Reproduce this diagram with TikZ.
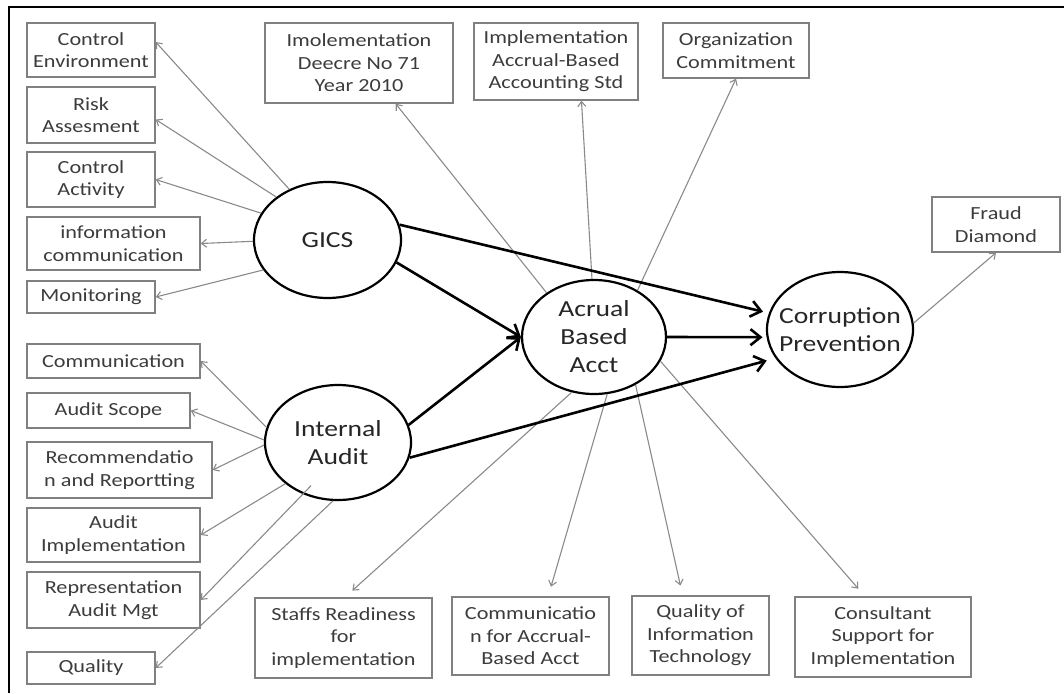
\documentclass[tikz,border=0pt]{standalone}
\usepackage{fontspec}
\setmainfont{Carlito}[FakeStretch=1.2]
\usetikzlibrary{arrows.meta,calc,shapes.geometric}
\definecolor{boxgray}{HTML}{808080}
\definecolor{txtgray}{HTML}{3C3C3C}
\definecolor{linegray}{HTML}{8A8A8A}
\tikzset{
  box/.style={draw=boxgray, line width=1.4pt, inner sep=0pt, align=center, text=txtgray,
    font=\fontsize{18.5}{22.5}\selectfont},
  sz/.style 2 args={minimum width=#1pt, minimum height=#2pt},
  lv/.style={draw=black, ellipse, line width=2.2pt, inner sep=0pt},
  lvtext/.style={align=center, text=black!85, font=\fontsize{23}{28}\selectfont},
  ind/.style={draw=linegray, line width=1.1pt, -{Straight Barb[length=5pt,width=8pt]}},
  rel/.style={line width=2.6pt, -{Straight Barb[length=10pt,width=16pt]}}
}
\begin{document}
\begin{tikzpicture}[x=1pt,y=-1pt]
\useasboundingbox (0,0) rectangle (1064,693);
\draw[line width=2pt] (9,693) -- (9,7) -- (1064,7);

% latent variables
\node[lv, sz={147}{116}] (gics) at (327.5,240) {};
\node[lvtext] (gics-t) at (gics) {GICS};
\node[lv, sz={146}{115}] (ia) at (338,442.5) {};
\node[lvtext] (ia-t) at (ia) {Internal\\Audit};
\node[lv, sz={144}{114}] (acc) at (594,337) {};
\node[lvtext] (acc-t) at (acc) {Acrual\\Based\\Acct};
\node[lv, sz={146}{115}] (cp) at (840,329.5) {};
\node[lvtext] (cp-t) at (cp) {Corruption\\Prevention};

% GICS indicators
\node[box, sz={128}{54}] (ce) at (91,50) {Control\\Environment};
\node[box, sz={128}{56}] (ra) at (91,115) {Risk\\Assesment};
\node[box, sz={128}{55}] (ca) at (91,179.5) {Control\\Activity};
\node[box, sz={173}{53}] (ic) at (113.5,243.5) {information\\communication};
\node[box, sz={128}{32}] (mo) at (91,297) {Monitoring};

% internal audit indicators
\node[box, sz={173}{34}] (co) at (113.5,361) {Communication};
\node[box, sz={163}{35}] (as) at (108.5,410.5) {Audit Scope};
\node[box, sz={185}{56}] (rr) at (119.5,470) {Recommendatio\\n and Reportting};
\node[box, sz={173}{54}] (ai) at (113.5,535) {Audit\\Implementation};
\node[box, sz={173}{56}] (rm) at (113.5,600) {Representation\\Audit Mgt};
\node[box, sz={128}{32}] (qu) at (91,668) {Quality};

% accrual indicators
\node[box, sz={188}{80}] (id) at (359,63) {Imolementation\\Deecre No 71\\Year 2010};
\node[box, sz={164}{77}] (isd) at (556,61.5) {Implementation\\Accrual-Based\\Accounting Std};
\node[box, sz={146}{55}] (oc) at (736,50.5) {Organization\\Commitment};
\node[box, sz={177}{80}] (sr) at (343.5,638) {Staffs Readiness\\for\\implementation};
\node[box, sz={157}{78}] (cm) at (530.5,636) {Communicatio\\n for Accrual-\\Based Acct};
\node[box, sz={137}{79}] (qt) at (700.5,635.5) {Quality of\\Information\\Technology};
\node[box, sz={176}{80}] (cs) at (883,637) {Consultant\\Support for\\Implementation};

\node[box, sz={128}{55}] (fd) at (996,224.5) {Fraud\\Diamond};

% indicator arrows
\draw[ind] (gics.127) -- (ce.7);
\draw[ind] (gics.140) -- (ra.-4);
\draw[ind] (gics.158) -- (ca.east);
\draw[ind] (gics.181) -- (ic.east);
\draw[ind] (gics.205) -- (mo.east);

\draw[ind] (ia.168) -- (co.east);
\draw[ind] (ia.178) -- (as.east);
\draw[ind] (ia.182) -- (rr.east);
\draw[ind] (ia.218) -- (ai.east);
\draw[ind] ($(ia)!0.82!(ia.238)$) -- (rm.east);
\draw[ind] (ia.265) -- (qu.east);

\draw[ind] (acc.137) -- (id.-48);
\draw[ind] (acc.92) -- (isd.-57);
\draw[ind] (acc.47) -- (oc.south);
\draw[ind, shorten >=10pt] (acc.248) -- (sr.88);
\draw[ind, shorten >=10pt] (acc.283) -- (cm.66);
\draw[ind, shorten >=10pt] (acc.311) -- (qt.114);
\draw[ind, shorten >=10pt] (acc.340) -- (cs.114);

\draw[ind] (cp.5) -- (fd.south);

% structural paths
\draw[rel] (gics.-18) -- (acc.west);
\draw[rel] (ia.14) -- (acc.west);
\draw[rel, shorten >=6pt] (gics.12) -- (cp.167);
\draw[rel, shorten >=4pt] (acc.east) -- (cp.186);
\draw[rel, shorten >=9pt] (ia.-12) -- (cp.204);
\end{tikzpicture}
\end{document}
